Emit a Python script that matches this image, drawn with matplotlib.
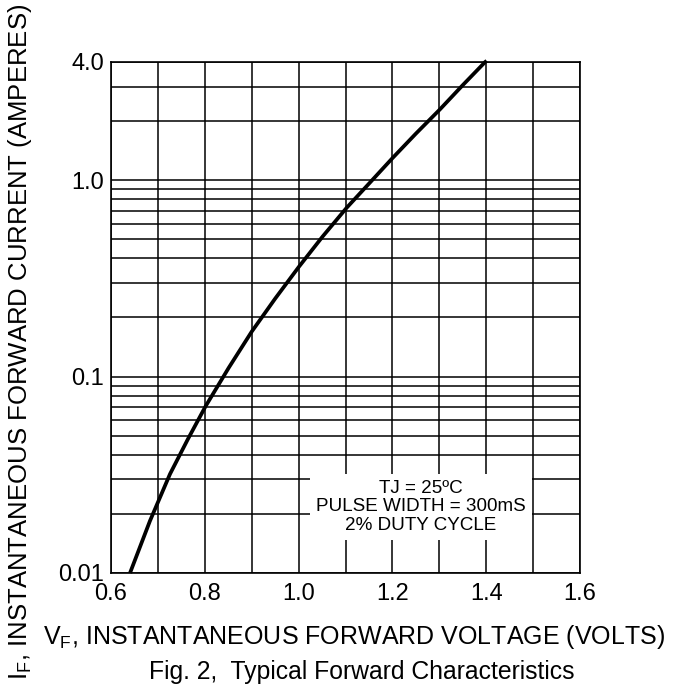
import numpy as np
import matplotlib
matplotlib.use("Agg")
import matplotlib.pyplot as plt
from matplotlib.ticker import FixedLocator, NullFormatter

plt.rcParams["font.family"] = ["Liberation Sans", "DejaVu Sans"]
plt.rcParams["mathtext.fontset"] = "custom"
plt.rcParams["mathtext.rm"] = "Liberation Sans"
plt.rcParams["mathtext.default"] = "regular"

# forward characteristic
vf = [0.6405, 0.683, 0.7258, 0.764, 0.8019, 0.851, 0.900, 0.950, 1.0009,
      1.051, 1.1026, 1.151, 1.1998, 1.250, 1.3015, 1.350, 1.3974, 1.401]
i_f = [0.0100, 0.01841, 0.03192, 0.04808, 0.07079, 0.1109, 0.1694, 0.2495, 0.3631,
       0.516, 0.7244, 0.9661, 1.293, 1.726, 2.296, 3.048, 3.990, 4.055]

x_ticks = [0.6, 0.8, 1.0, 1.2, 1.4, 1.6]
x_grid = [0.7, 0.9, 1.1, 1.3, 1.5]
y_ticks = [0.01, 0.1, 1.0, 4.0]
y_tick_labels = ["0.01", "0.1", "1.0", "4.0"]
y_grid = [0.02, 0.03, 0.04, 0.05, 0.06, 0.07, 0.08, 0.09,
          0.2, 0.3, 0.4, 0.5, 0.6, 0.7, 0.8, 0.9, 2.0, 3.0]

fig = plt.figure(figsize=(6.82, 6.94), dpi=100)
ax = fig.add_axes([0.1628, 0.1744, 0.6876, 0.7363])

ax.set_yscale("log")
ax.set_xlim(0.6, 1.6)
ax.set_ylim(0.01, 4.0)

ax.xaxis.set_major_locator(FixedLocator(x_ticks))
ax.xaxis.set_minor_locator(FixedLocator(x_grid))
ax.yaxis.set_major_locator(FixedLocator(y_ticks))
ax.yaxis.set_minor_locator(FixedLocator(y_grid))
ax.yaxis.set_minor_formatter(NullFormatter())
ax.set_xticklabels(["%.1f" % v for v in x_ticks])
ax.set_yticklabels(y_tick_labels)
ax.tick_params(which="both", length=0, labelsize=17)
ax.tick_params(axis="x", pad=7)
ax.tick_params(axis="y", pad=5)

ax.grid(True, which="both", color="black", linewidth=1.1)
for s in ax.spines.values():
    s.set_linewidth(1.2)

ax.plot(vf, i_f, color="black", linewidth=2.7, clip_on=False, zorder=5,
        solid_joinstyle="round", solid_capstyle="butt")

ax.text(1.261, 0.0217, "TJ = 25ºC\nPULSE WIDTH = 300mS\n2% DUTY CYCLE",
        ha="center", va="center", fontsize=13.6, linespacing=1.12, zorder=6,
        bbox=dict(facecolor="white", edgecolor="none", boxstyle="square,pad=0.3"))

fig.text(0.029, 1 - 341.5 / 694, r"$I_F$, INSTANTANEOUS FORWARD CURRENT (AMPERES)",
         rotation=90, ha="center", va="center", fontsize=18.5)
fig.text(0.519, 1 - 637 / 694, r"$V_F$, INSTANTANEOUS FORWARD VOLTAGE (VOLTS)",
         ha="center", va="center", fontsize=18)
fig.text(0.531, 1 - 672 / 694, "Fig. 2,  Typical Forward Characteristics",
         ha="center", va="center", fontsize=17.8)

fig.savefig("out.png", dpi=100)
